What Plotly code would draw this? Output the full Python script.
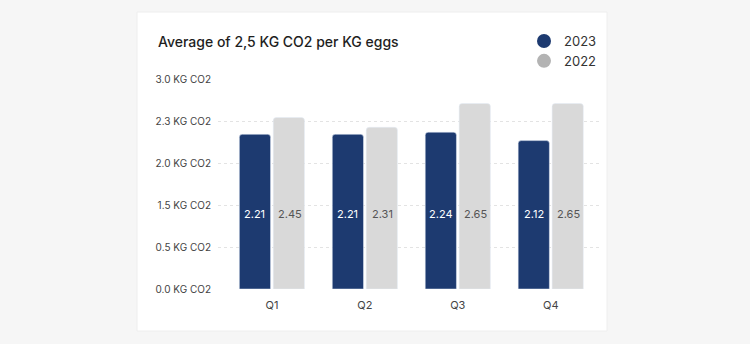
import plotly.graph_objects as go

quarters = ["Q1", "Q2", "Q3", "Q4"]
values_2023 = [2.21, 2.21, 2.24, 2.12]
values_2022 = [2.45, 2.31, 2.65, 2.65]
tick_vals = [0, 0.6, 1.2, 1.8, 2.4, 3.0]
tick_text = ["0.0 KG CO2", "0.5 KG CO2", "1.5 KG CO2", "2.0 KG CO2", "2.3 KG CO2", "3.0 KG CO2"]

NAVY = "#1d3a70"
LIGHT = "#d9d9d9"
LEGEND_GRAY = "#b3b3b3"
FONT = "Inter, Open Sans, sans-serif"

W, H = 750, 344
L, R, T, B = 218, 150, 79, 55
pw, ph = W - L - R, H - T - B

fig = go.Figure()
fig.add_trace(go.Bar(x=quarters, y=values_2023, name="2023", marker_color=NAVY,
                     showlegend=False, hoverinfo="skip"))
fig.add_trace(go.Bar(x=quarters, y=values_2022, name="2022", marker_color=LIGHT,
                     showlegend=False, hoverinfo="skip"))

# circular legend markers
fig.add_trace(go.Scatter(x=[None], y=[None], mode="markers", name="2023",
                         marker=dict(color=NAVY, size=14, symbol="circle")))
fig.add_trace(go.Scatter(x=[None], y=[None], mode="markers", name="2022",
                         marker=dict(color=LEGEND_GRAY, size=14, symbol="circle")))

# value labels, all at the same height inside the bars
label_y = 1.07
for q, v in zip(quarters, values_2023):
    fig.add_annotation(x=q, y=label_y, xref="x", yref="y", text=f"{v:.2f}",
                       showarrow=False, xshift=-17,
                       font=dict(family=FONT, size=11, color="#ffffff"))
for q, v in zip(quarters, values_2022):
    fig.add_annotation(x=q, y=label_y, xref="x", yref="y", text=f"{v:.2f}",
                       showarrow=False, xshift=18,
                       font=dict(family=FONT, size=11, color="#555555"))

# title
fig.add_annotation(x=(156 - L) / pw, y=(H - B - 42) / ph, xref="paper", yref="paper",
                   xanchor="left", yanchor="middle", showarrow=False,
                   text="Average of 2,5 KG CO2 per KG eggs",
                   font=dict(family=FONT, size=14, color="#1e1e1e", weight=500))

# white card behind the chart
fig.add_shape(type="rect", xref="paper", yref="paper", layer="below",
              x0=(137 - L) / pw, x1=(607 - L) / pw,
              y0=(H - B - 331) / ph, y1=(H - B - 12) / ph,
              fillcolor="#ffffff", line=dict(color="#eeeeee", width=1))

fig.update_layout(
    width=W, height=H,
    margin=dict(l=L, r=R, t=T, b=B),
    paper_bgcolor="#f6f6f6",
    plot_bgcolor="rgba(0,0,0,0)",
    barmode="group",
    bargap=0.27,
    bargroupgap=0.08,
    barcornerradius=3,
    font=dict(family=FONT, color="#444444"),
    legend=dict(x=(524 - L) / pw, y=(H - B - 26) / ph, xanchor="left", yanchor="top",
                bgcolor="rgba(0,0,0,0)", font=dict(family=FONT, size=13, color="#333333"),
                itemwidth=30, tracegroupgap=0),
    xaxis=dict(range=[-0.58, 3.53], showgrid=False, zeroline=False, showline=False,
               ticks="", ticklabelstandoff=8,
               tickfont=dict(family=FONT, size=11, color="#444444")),
    yaxis=dict(range=[0, 3.0], tickvals=tick_vals, ticktext=tick_text,
               showgrid=True, gridcolor="#e3e3e3", griddash="dot", gridwidth=1,
               zeroline=False, showline=False, ticks="", ticklabelstandoff=6,
               tickfont=dict(family=FONT, size=10, color="#444444")),
)

fig.write_html("out.html")
